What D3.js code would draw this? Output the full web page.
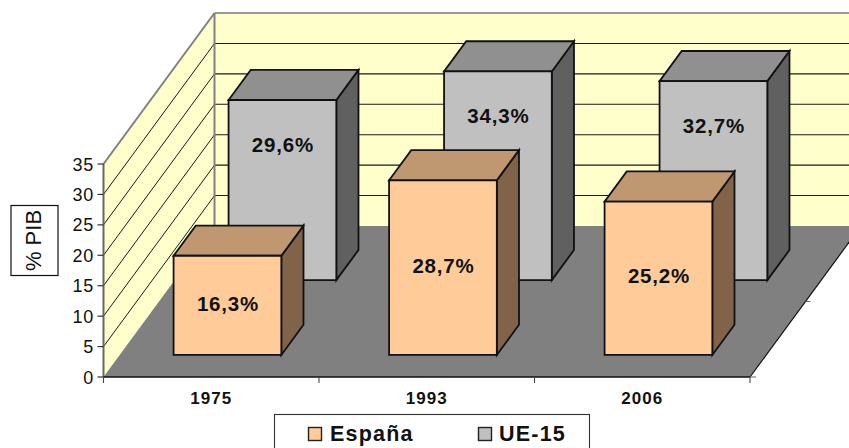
<!DOCTYPE html>
<html><head><meta charset="utf-8">
<script src="https://cdn.jsdelivr.net/npm/d3@7"></script>
<style>html,body{margin:0;padding:0;background:#fff}svg{display:block}text{font-family:"Liberation Sans",Arial,sans-serif;fill:#111}</style>
</head><body><svg id="c" width="849" height="448"></svg>
<script>
const categories = ["1975","1993","2006"];
const seriesNames = ["España","UE-15"];
const espana = [16.3,28.7,25.2];
const ue15 = [29.6,34.3,32.7];
const espanaLabels = ["16,3%","28,7%","25,2%"];
const ue15Labels = ["29,6%","34,3%","32,7%"];
const yTicks = [0,5,10,15,20,25,30,35];
const axisTitle = "% PIB";

const svg = d3.select("#c").append("g");
const X0=103.5,X1=750,Y0=377,Y35=164,DX=111,DY=-151;
const x = d3.scaleBand().domain(categories).range([X0,X1]).paddingInner(0.5).paddingOuter(0.25);
const y = d3.scaleLinear().domain([0,35]).range([0,Y35-Y0]);
const z = d3.scaleBand().domain(seriesNames).range([0.146,0.841]).paddingInner(0.597).paddingOuter(0);
const P=(px,v,t)=>[px+DX*t, Y0+y(v)+DY*t];
const poly=(pts,fill,stroke,sw)=>svg.append("polygon").attr("points",pts.map(p=>p.join(",")).join(" ")).attr("fill",fill).attr("stroke",stroke||"none").attr("stroke-width",sw||0).attr("stroke-linejoin","miter");
const line=(a,b,stroke,sw)=>svg.append("line").attr("x1",a[0]).attr("y1",a[1]).attr("x2",b[0]).attr("y2",b[1]).attr("stroke",stroke).attr("stroke-width",sw);

// walls and floor
poly([P(X0,0,1),P(X1+200,0,1),P(X1+200,35,1),P(X0,35,1)],"#FFFFCC");
poly([P(X0,0,0),P(X0,0,1),P(X0,35,1),P(X0,35,0)],"#FFFFCC");
poly([P(X0,0,0),P(X1,0,0),P(X1,0,1),P(X0,0,1)],"#808080");
yTicks.filter(v=>v>0).forEach(v=>{
  line(P(X0,v,0),P(X0,v,1),v===35?"#808080":"#1a1a1a",v===35?2:1);
  line(P(X0,v,1),P(X1+200,v,1),v===35?"#999":"#1a1a1a",v===35?2:1.1);
});
line(P(X0,0,1),P(X0,35,1),"#808080",2);
line(P(X0,0,0),P(X0,35,0),"#666",2);
line(P(X0,0,0),P(X1,0,0),"#111",1.4);
line(P(X1,0,0),P(X1,0,1),"#111",1.2);
yTicks.forEach(v=>{
  const p=P(X0,v,0);
  line([p[0]-6,p[1]],p,"#333",1.2);
  svg.append("text").attr("x",p[0]-9.5).attr("y",p[1]+6.5).attr("text-anchor","end").attr("font-size",18).attr("letter-spacing",0.8).attr("fill","#222").text(v);
});
const step=(X1-X0)/categories.length;
d3.range(categories.length+1).forEach(i=>{
  const px=X0+i*step;
  line([px,Y0],[px,Y0+6],"#444",1.1);
});
line(P(X1,0,0.5),[P(X1,0,0.5)[0]+5,P(X1,0,0.5)[1]],"#666",1);
line(P(X1,0,0),[X1+6,Y0],"#666",1);

// bars: back series first
function bars(vals,labels,name,front,top,side,labelY){
  const t0=z(name),t1=t0+z.bandwidth(),w=x.bandwidth();
  categories.forEach((c,i)=>{
    const l=x(c),r=l+w,v=vals[i];
    poly([P(r,0,t0),P(r,0,t1),P(r,v,t1),P(r,v,t0)],side,"#111",1.8);
    poly([P(l,v,t0),P(r,v,t0),P(r,v,t1),P(l,v,t1)],top,"#111",1.8);
    poly([P(l,0,t0),P(r,0,t0),P(r,v,t0),P(l,v,t0)],front,"#111",1.8);
    svg.append("text").attr("x",P((l+r)/2,0,t0)[0]+0.5).attr("y",labelY(P(l,v,t0)[1],P(l,0,t0)[1])+7)
      .attr("text-anchor","middle").attr("font-size",20.5).attr("font-weight","bold").attr("letter-spacing",0.8).text(labels[i]);
  });
}
bars(ue15,ue15Labels,"UE-15","#C0C0C0","#909090","#606060",(a,b)=>a+44.5);
bars(espana,espanaLabels,"España","#FFCC99","#BF9872","#806349",(a,b)=>(a+b)/2-1.8);

// category labels
categories.forEach(c=>svg.append("text").attr("x",x(c)+x.bandwidth()/2).attr("y",404)
  .attr("text-anchor","middle").attr("font-size",17).attr("font-weight","bold").attr("letter-spacing",1).text(c));

// axis title
svg.append("rect").attr("x",11).attr("y",205.5).attr("width",47).attr("height",70).attr("fill","#fff").attr("stroke","#111").attr("stroke-width",1.2);
svg.append("text").attr("transform","translate(41,240.5) rotate(-90)").attr("text-anchor","middle").attr("font-size",22).text(axisTitle);

// legend
svg.append("rect").attr("x",274.5).attr("y",414.5).attr("width",315).attr("height",40).attr("fill","#fff").attr("stroke","#333").attr("stroke-width",1.1);
const legendX=[308.5,478.5],legendText=[330,499],legendFill=["#FFCC99","#C0C0C0"];
seriesNames.forEach((n,i)=>{
  svg.append("rect").attr("x",legendX[i]).attr("y",427.5).attr("width",13).attr("height",13).attr("fill",legendFill[i]).attr("stroke","#222").attr("stroke-width",1.4);
  svg.append("text").attr("x",legendText[i]).attr("y",441).attr("font-size",21.5).attr("font-weight","bold").attr("letter-spacing",1.2).text(n);
});
</script></body></html>
